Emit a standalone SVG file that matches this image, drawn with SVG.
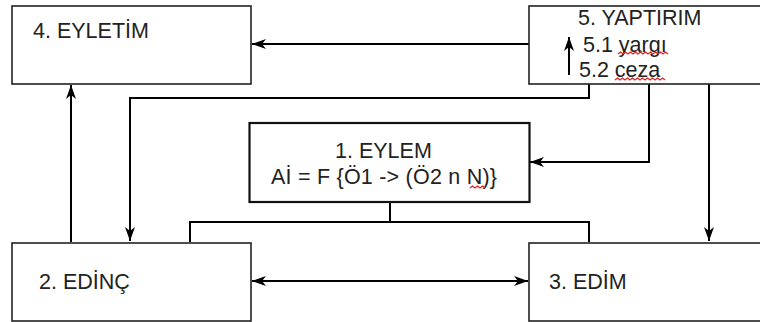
<svg xmlns="http://www.w3.org/2000/svg" width="760" height="322" viewBox="0 0 760 322">
<style>
.box{fill:#fff;stroke:#222;stroke-width:1.6}
.t{font-family:"Liberation Sans",Arial,sans-serif;font-size:21.5px;fill:#222}
.c{fill:none;stroke:#000;stroke-width:2}
.sq{fill:none;stroke:#e02020;stroke-width:1.2}
</style>
<defs>
<marker id="ah" markerWidth="15" markerHeight="12" refX="14" refY="6" orient="auto-start-reverse" markerUnits="userSpaceOnUse">
<path d="M0,1 L14,6 L0,11 L4,6 z" fill="#000"/>
</marker>
</defs>
<rect width="760" height="322" fill="#fff"/>
<g id="connectors">
<line class="c" x1="529" y1="44" x2="252" y2="44" marker-end="url(#ah)"/>
<polyline class="c" points="589,84 589,98 130,98 130,241" marker-end="url(#ah)"/>
<polyline class="c" points="649,84 649,162 530,162" marker-end="url(#ah)"/>
<line class="c" x1="709" y1="84" x2="709" y2="241" marker-end="url(#ah)"/>
<line class="c" x1="71" y1="242" x2="71" y2="85" marker-end="url(#ah)"/>
<polyline class="c" points="390,202 390,222"/>
<polyline class="c" points="190,242 190,222 589,222 589,242"/>
<line class="c" x1="252" y1="281" x2="528" y2="281" marker-start="url(#ah)" marker-end="url(#ah)"/>
</g>
<g id="node4">
<rect class="box" x="12" y="6" width="239" height="78"/>
<text class="t" x="33" y="38">4. EYLETİM</text>
</g>
<g id="node5">
<rect class="box" x="529" y="6" width="240" height="78"/>
<text class="t" x="578" y="25">5. YAPTIRIM</text>
<text class="t" x="583" y="52">5.1 yargı</text>
<text class="t" x="579" y="77">5.2 ceza</text>
<line class="c" x1="569" y1="75" x2="569" y2="37" marker-end="url(#ah)"/>
<path class="sq" d="M618,54 l2.5,-2 l2.5,2 l2.5,-2 l2.5,2 l2.5,-2 l2.5,2 l2.5,-2 l2.5,2 l2.5,-2 l2.5,2 l2.5,-2 l2.5,2 l2.5,-2 l2.5,2 l2.5,-2 l2.5,2 l2.5,-2 l2.5,2 l2.5,-2 l2.5,2"/>
<path class="sq" d="M615,80 l2.5,-2 l2.5,2 l2.5,-2 l2.5,2 l2.5,-2 l2.5,2 l2.5,-2 l2.5,2 l2.5,-2 l2.5,2 l2.5,-2 l2.5,2 l2.5,-2 l2.5,2 l2.5,-2 l2.5,2 l2.5,-2 l2.5,2 l2.5,-2 l2.5,2"/>
</g>
<g id="node1">
<rect class="box" x="249.5" y="123" width="280" height="79" style="stroke:#111;stroke-width:2.2"/>
<text class="t" x="335" y="158">1. EYLEM</text>
<text class="t" x="271" y="184" textLength="226" lengthAdjust="spacing">Aİ = F {Ö1 -&gt; (Ö2 n N)}</text>
<path class="sq" d="M470,188 l2.5,-2 l2.5,2 l2.5,-2 l2.5,2 l2.5,-2 l2.5,2"/>
</g>
<g id="node2">
<rect class="box" x="12" y="243" width="239" height="78"/>
<text class="t" x="39" y="289">2. EDİNÇ</text>
</g>
<g id="node3">
<rect class="box" x="529" y="243" width="240" height="78"/>
<text class="t" x="549" y="289">3. EDİM</text>
</g>
</svg>
